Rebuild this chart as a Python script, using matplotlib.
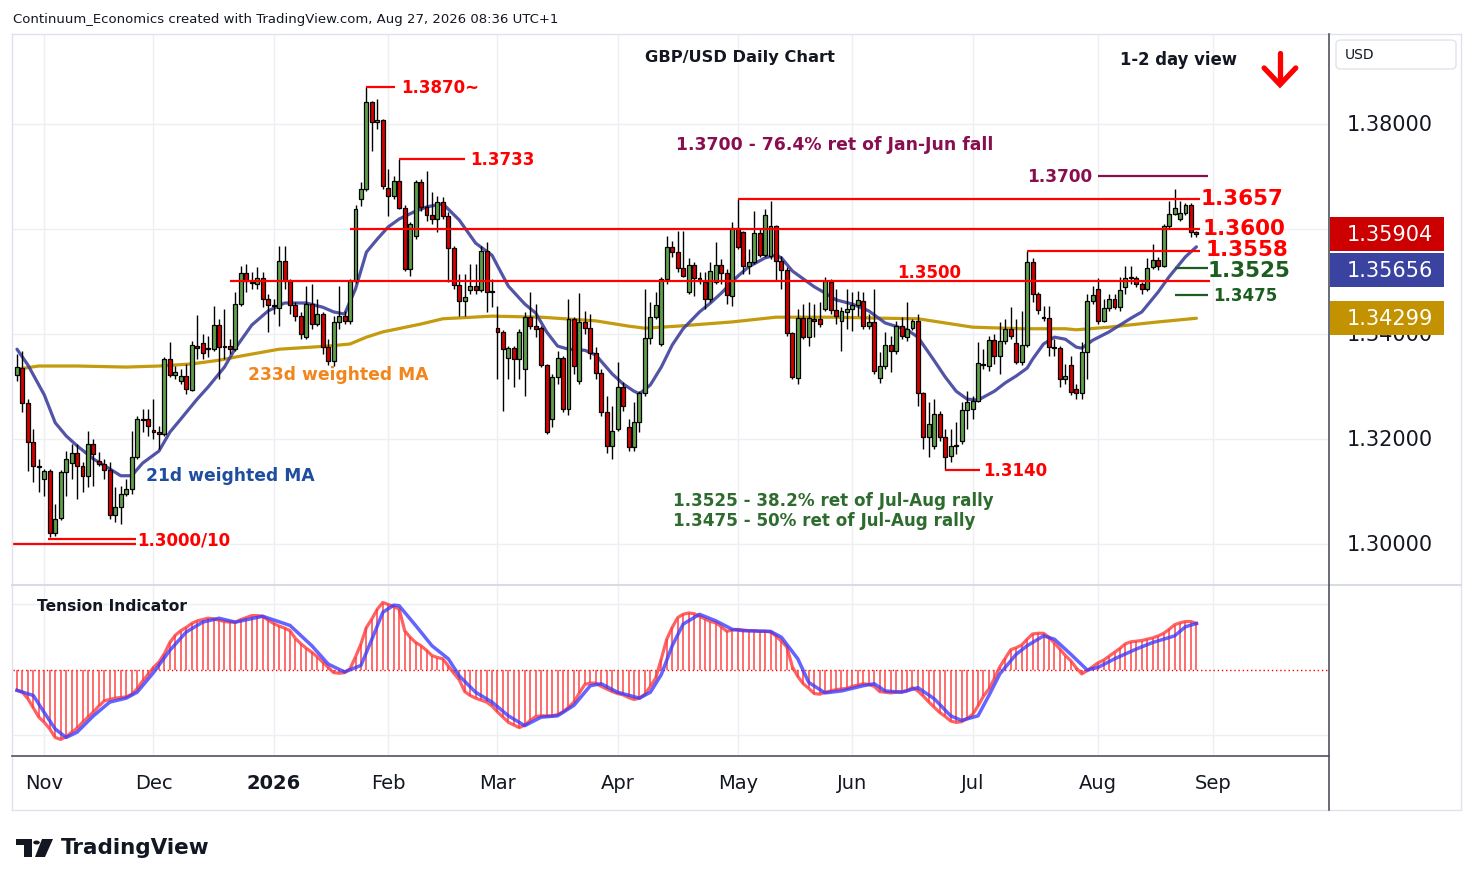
import numpy as np
import pandas as pd
import matplotlib
matplotlib.use('Agg')
import matplotlib.pyplot as plt
from matplotlib import transforms
from matplotlib.patches import Rectangle, FancyBboxPatch, Polygon, Circle
from matplotlib.lines import Line2D

plt.rcParams['font.family'] = ['DejaVu Sans']

# ---------------- DATA ----------------
opens = [1.3322,1.3335,1.3269,1.3194,1.3149,1.3124,1.3139,1.3021,1.3050,1.3137,
1.3154,1.3173,1.3149,1.3130,1.3190,1.3158,1.3152,1.3141,1.3055,1.3071,
1.3095,1.3105,1.3166,1.3238,1.3238,1.3217,1.3213,1.3209,1.3352,1.3322,
1.3311,1.3320,1.3293,1.3377,1.3383,1.3373,1.3371,1.3417,1.3377,1.3377,
1.3371,1.3457,1.3516,1.3499,1.3495,1.3507,1.3467,1.3455,1.3449,1.3539,
1.3501,1.3455,1.3434,1.3394,1.3457,1.3419,1.3438,1.3375,1.3349,1.3423,
1.3434,1.3425,1.3501,1.3657,1.3676,1.3842,1.3804,1.3808,1.3678,1.3663,
1.3691,1.3640,1.3524,1.3587,1.3690,1.3642,1.3627,1.3619,1.3651,1.3625,
1.3564,1.3493,1.3463,1.3484,1.3491,1.3484,1.3558,1.3480,1.3411,1.3404,
1.3354,1.3373,1.3352,1.3333,1.3432,1.3415,1.3411,1.3341,1.3238,1.3318,
1.3354,1.3257,1.3429,1.3311,1.3423,1.3411,1.3364,1.3326,1.3251,1.3187,
1.3219,1.3299,1.3223,1.3185,1.3232,1.3288,1.3392,1.3432,1.3381,1.3505,
1.3566,1.3556,1.3526,1.3480,1.3531,1.3507,1.3499,1.3467,1.3499,1.3531,
1.3516,1.3472,1.3602,1.3594,1.3529,1.3537,1.3592,1.3550,1.3548,1.3606,
1.3539,1.3522,1.3402,1.3316,1.3430,1.3394,1.3429,1.3429,1.3448,1.3499,
1.3446,1.3425,1.3442,1.3448,1.3455,1.3463,1.3415,1.3423,1.3316,1.3339,
1.3379,1.3368,1.3415,1.3394,1.3411,1.3425,1.3288,1.3204,1.3187,1.3248,
1.3204,1.3168,1.3187,1.3196,1.3255,1.3257,1.3272,1.3343,1.3339,1.3388,
1.3358,1.3387,1.3410,1.3383,1.3347,1.3379,1.3537,1.3476,1.3432,1.3430,
1.3375,1.3373,1.3314,1.3341,1.3295,1.3288,1.3366,1.3463,1.3486,1.3425,
1.3449,1.3467,1.3451,1.3490,1.3507,1.3507,1.3495,1.3486,1.3528,1.3541,
1.3529,1.3606,1.3629,1.3619,1.3630,1.3646,1.3594]

highs = [1.3362,1.3368,1.3276,1.3219,1.3162,1.3143,1.3143,1.3076,1.3141,1.3177,
1.3190,1.3190,1.3156,1.3215,1.3200,1.3175,1.3162,1.3156,1.3109,1.3111,
1.3124,1.3215,1.3244,1.3257,1.3257,1.3276,1.3225,1.3356,1.3385,1.3339,
1.3333,1.3343,1.3387,1.3436,1.3400,1.3396,1.3453,1.3429,1.3448,1.3390,
1.3480,1.3530,1.3533,1.3518,1.3528,1.3518,1.3476,1.3467,1.3568,1.3568,
1.3505,1.3461,1.3442,1.3491,1.3495,1.3467,1.3442,1.3390,1.3434,1.3491,
1.3444,1.3505,1.3646,1.3690,1.3870,1.3844,1.3848,1.3810,1.3714,1.3701,
1.3733,1.3646,1.3613,1.3693,1.3695,1.3710,1.3671,1.3663,1.3661,1.3632,
1.3568,1.3514,1.3514,1.3533,1.3533,1.3568,1.3575,1.3505,1.3453,1.3407,
1.3377,1.3377,1.3410,1.3442,1.3480,1.3457,1.3415,1.3343,1.3324,1.3368,
1.3358,1.3467,1.3432,1.3478,1.3444,1.3438,1.3375,1.3333,1.3282,1.3263,
1.3347,1.3308,1.3238,1.3270,1.3291,1.3486,1.3461,1.3480,1.3509,1.3587,
1.3577,1.3596,1.3596,1.3545,1.3537,1.3518,1.3518,1.3537,1.3575,1.3543,
1.3524,1.3613,1.3657,1.3596,1.3562,1.3634,1.3600,1.3638,1.3653,1.3608,
1.3549,1.3528,1.3404,1.3448,1.3457,1.3461,1.3457,1.3461,1.3509,1.3505,
1.3486,1.3451,1.3486,1.3480,1.3482,1.3480,1.3438,1.3486,1.3366,1.3404,
1.3396,1.3425,1.3432,1.3461,1.3429,1.3438,1.3290,1.3270,1.3276,1.3253,
1.3219,1.3219,1.3232,1.3270,1.3291,1.3282,1.3385,1.3371,1.3396,1.3400,
1.3423,1.3429,1.3451,1.3429,1.3444,1.3558,1.3545,1.3480,1.3453,1.3453,
1.3390,1.3377,1.3343,1.3358,1.3305,1.3385,1.3476,1.3491,1.3507,1.3467,
1.3476,1.3476,1.3509,1.3530,1.3530,1.3510,1.3499,1.3545,1.3572,1.3547,
1.3610,1.3653,1.3676,1.3653,1.3650,1.3650,1.3596]

lows = [1.3311,1.3251,1.3139,1.3118,1.3099,1.3091,1.3013,1.3015,1.3046,1.3091,
1.3124,1.3086,1.3099,1.3109,1.3111,1.3149,1.3124,1.3048,1.3042,1.3038,
1.3091,1.3095,1.3162,1.3213,1.3206,1.3200,1.3181,1.3206,1.3318,1.3314,
1.3305,1.3286,1.3291,1.3352,1.3352,1.3356,1.3368,1.3314,1.3352,1.3362,
1.3368,1.3453,1.3480,1.3486,1.3486,1.3451,1.3404,1.3438,1.3415,1.3486,
1.3438,1.3425,1.3390,1.3390,1.3410,1.3415,1.3362,1.3341,1.3339,1.3410,
1.3419,1.3419,1.3497,1.3644,1.3672,1.3749,1.3790,1.3676,1.3625,1.3657,
1.3638,1.3520,1.3510,1.3581,1.3634,1.3615,1.3610,1.3594,1.3619,1.3499,
1.3486,1.3434,1.3434,1.3476,1.3476,1.3480,1.3442,1.3451,1.3314,1.3253,
1.3314,1.3299,1.3314,1.3282,1.3410,1.3394,1.3337,1.3209,1.3223,1.3305,
1.3251,1.3246,1.3324,1.3305,1.3400,1.3352,1.3314,1.3244,1.3173,1.3162,
1.3215,1.3253,1.3177,1.3177,1.3213,1.3282,1.3381,1.3429,1.3377,1.3495,
1.3547,1.3518,1.3509,1.3476,1.3472,1.3495,1.3448,1.3461,1.3495,1.3495,
1.3457,1.3453,1.3562,1.3514,1.3514,1.3533,1.3547,1.3547,1.3543,1.3501,
1.3486,1.3396,1.3314,1.3305,1.3390,1.3377,1.3394,1.3413,1.3444,1.3438,
1.3419,1.3368,1.3410,1.3406,1.3434,1.3410,1.3410,1.3324,1.3307,1.3333,
1.3328,1.3362,1.3390,1.3387,1.3408,1.3263,1.3181,1.3166,1.3181,1.3196,
1.3140,1.3156,1.3171,1.3190,1.3219,1.3238,1.3270,1.3333,1.3330,1.3343,
1.3324,1.3381,1.3390,1.3343,1.3341,1.3375,1.3461,1.3438,1.3425,1.3358,
1.3358,1.3299,1.3305,1.3284,1.3276,1.3276,1.3314,1.3457,1.3419,1.3423,
1.3444,1.3448,1.3444,1.3476,1.3495,1.3490,1.3476,1.3482,1.3524,1.3522,
1.3528,1.3600,1.3627,1.3615,1.3627,1.3585,1.3585]

closes = [1.3337,1.3269,1.3194,1.3149,1.3147,1.3139,1.3021,1.3048,1.3137,1.3162,
1.3173,1.3149,1.3130,1.3190,1.3171,1.3152,1.3141,1.3055,1.3071,1.3095,
1.3105,1.3166,1.3238,1.3236,1.3225,1.3213,1.3209,1.3352,1.3322,1.3327,
1.3320,1.3295,1.3379,1.3373,1.3364,1.3371,1.3417,1.3375,1.3375,1.3371,
1.3457,1.3516,1.3501,1.3497,1.3507,1.3467,1.3455,1.3453,1.3539,1.3501,
1.3455,1.3434,1.3400,1.3457,1.3419,1.3438,1.3375,1.3349,1.3423,1.3434,
1.3425,1.3501,1.3638,1.3676,1.3842,1.3804,1.3808,1.3682,1.3663,1.3691,
1.3640,1.3524,1.3610,1.3690,1.3642,1.3627,1.3619,1.3651,1.3625,1.3564,
1.3493,1.3463,1.3470,1.3491,1.3484,1.3558,1.3480,1.3482,1.3404,1.3371,
1.3373,1.3352,1.3404,1.3432,1.3415,1.3410,1.3341,1.3213,1.3318,1.3354,
1.3257,1.3429,1.3339,1.3423,1.3411,1.3364,1.3326,1.3251,1.3187,1.3215,
1.3299,1.3263,1.3185,1.3232,1.3288,1.3392,1.3432,1.3455,1.3505,1.3566,
1.3556,1.3526,1.3510,1.3531,1.3507,1.3501,1.3467,1.3520,1.3531,1.3516,
1.3474,1.3602,1.3566,1.3529,1.3537,1.3592,1.3550,1.3627,1.3606,1.3539,
1.3522,1.3402,1.3318,1.3430,1.3394,1.3430,1.3425,1.3419,1.3501,1.3446,
1.3434,1.3444,1.3448,1.3455,1.3465,1.3415,1.3423,1.3330,1.3339,1.3379,
1.3368,1.3415,1.3396,1.3410,1.3425,1.3288,1.3204,1.3229,1.3248,1.3204,
1.3166,1.3187,1.3189,1.3255,1.3270,1.3272,1.3345,1.3341,1.3388,1.3358,
1.3387,1.3410,1.3396,1.3347,1.3379,1.3537,1.3476,1.3446,1.3430,1.3375,
1.3373,1.3314,1.3320,1.3290,1.3288,1.3366,1.3463,1.3474,1.3425,1.3449,
1.3467,1.3451,1.3484,1.3507,1.3507,1.3495,1.3486,1.3526,1.3541,1.3529,
1.3606,1.3629,1.3640,1.3630,1.3646,1.3594,1.3590]

ma21_idx = [0,2,5,7,9,11,14,17,19,21,23,26,28,30,33,35,38,40,43,46,
49,53,56,58,60,62,64,66,68,70,73,75,78,81,84,87,88,90,93,95,
97,99,101,104,106,109,111,113,114,116,118,120,122,125,127,129,132,134,137,139,
140,142,144,146,148,150,153,156,159,163,165,168,170,172,174,176,179,181,183,185,
186,188,190,192,194,195,197,200,204,206,209,211,214,216]
ma21_val = [1.3371,1.3341,1.3284,1.3231,1.3206,1.3187,1.3162,1.3143,1.3130,1.3130,
1.3154,1.3177,1.3213,1.3238,1.3276,1.3299,1.3337,1.3373,1.3417,1.3444,
1.3459,1.3459,1.3451,1.3442,1.3438,1.3486,1.3556,1.3581,1.3604,1.3619,
1.3634,1.3642,1.3648,1.3617,1.3573,1.3550,1.3530,1.3491,1.3457,1.3440,
1.3404,1.3377,1.3371,1.3369,1.3360,1.3324,1.3305,1.3291,1.3286,1.3303,
1.3337,1.3379,1.3410,1.3442,1.3459,1.3478,1.3510,1.3528,1.3545,1.3550,
1.3545,1.3520,1.3505,1.3490,1.3478,1.3465,1.3457,1.3444,1.3421,1.3408,
1.3394,1.3349,1.3318,1.3291,1.3276,1.3274,1.3291,1.3307,1.3320,1.3335,
1.3352,1.3381,1.3394,1.3390,1.3375,1.3373,1.3388,1.3404,1.3430,1.3442,
1.3480,1.3509,1.3547,1.3566]

ma233_idx = [0,4,11,20,26,32,37,41,48,57,61,64,67,74,78,87,96,106,112,115,
121,131,139,149,159,165,175,184,192,194,200,209,216]
ma233_val = [1.3333,1.3339,1.3339,1.3337,1.3339,1.3343,1.3350,1.3358,1.3371,1.3377,
1.3381,1.3394,1.3404,1.3419,1.3429,1.3434,1.3432,1.3425,1.3415,1.3411,
1.3415,1.3423,1.3432,1.3432,1.3430,1.3429,1.3413,1.3410,1.3410,1.3408,
1.3413,1.3423,1.3430]

tension = [-0.31,-0.34,-0.44,-0.58,-0.72,-0.80,-0.90,-1.03,-1.06,-1.02,
-0.95,-0.89,-0.80,-0.72,-0.64,-0.55,-0.47,-0.45,-0.43,-0.42,
-0.41,-0.37,-0.29,-0.17,-0.07,0.04,0.12,0.25,0.42,0.53,
0.60,0.65,0.71,0.75,0.77,0.79,0.78,0.76,0.74,0.73,
0.73,0.77,0.80,0.83,0.83,0.82,0.76,0.71,0.67,0.64,
0.60,0.48,0.40,0.33,0.27,0.20,0.12,0.04,-0.04,-0.05,
-0.04,0.02,0.20,0.40,0.65,0.78,0.93,1.03,1.00,0.97,
0.93,0.60,0.50,0.42,0.37,0.30,0.22,0.19,0.17,0.06,
-0.05,-0.15,-0.33,-0.39,-0.43,-0.46,-0.49,-0.55,-0.64,-0.72,
-0.80,-0.84,-0.88,-0.84,-0.77,-0.71,-0.70,-0.70,-0.70,-0.68,
-0.64,-0.57,-0.49,-0.35,-0.22,-0.20,-0.20,-0.25,-0.29,-0.33,
-0.36,-0.38,-0.42,-0.45,-0.43,-0.37,-0.25,-0.12,0.17,0.47,
0.65,0.80,0.85,0.87,0.86,0.82,0.78,0.74,0.72,0.66,
0.59,0.61,0.62,0.61,0.60,0.60,0.59,0.59,0.58,0.52,
0.44,0.35,0.05,-0.10,-0.21,-0.28,-0.36,-0.37,-0.34,-0.32,
-0.30,-0.29,-0.28,-0.25,-0.23,-0.21,-0.22,-0.25,-0.33,-0.34,
-0.35,-0.34,-0.33,-0.32,-0.27,-0.32,-0.40,-0.49,-0.57,-0.65,
-0.71,-0.78,-0.80,-0.79,-0.74,-0.68,-0.55,-0.40,-0.29,-0.13,
0.05,0.18,0.31,0.34,0.38,0.47,0.55,0.56,0.56,0.50,
0.41,0.32,0.22,0.14,0.03,-0.06,-0.01,0.05,0.11,0.15,
0.21,0.27,0.33,0.40,0.43,0.44,0.45,0.47,0.49,0.52,
0.56,0.62,0.69,0.72,0.74,0.74,0.71]

sig_idx = [0,3,5,7,9,11,14,17,20,22,25,28,31,34,37,40,45,50,54,57,
60,63,65,67,69,70,73,76,79,81,84,87,90,93,96,99,102,105,107,110,
114,116,118,120,122,125,128,131,133,138,140,143,145,148,151,155,157,159,162,165,
168,171,173,176,178,180,183,185,188,190,193,196,198,201,205,208,212,214,216]
sig_val = [-0.31,-0.39,-0.65,-0.90,-1.03,-0.95,-0.70,-0.49,-0.43,-0.34,
-0.04,0.30,0.58,0.73,0.79,0.73,0.82,0.68,0.37,0.09,
-0.03,0.07,0.47,0.88,0.99,0.98,0.68,0.37,0.17,-0.09,
-0.34,-0.49,-0.70,-0.85,-0.72,-0.70,-0.54,-0.24,-0.21,-0.34,
-0.43,-0.34,-0.07,0.37,0.70,0.85,0.75,0.62,0.60,0.59,
0.50,0.17,-0.19,-0.35,-0.32,-0.24,-0.21,-0.32,-0.34,-0.27,
-0.44,-0.70,-0.77,-0.70,-0.39,-0.06,0.24,0.37,0.52,0.47,
0.24,0.0,0.04,0.17,0.32,0.42,0.52,0.66,0.71]

month_labels = ['Nov', 'Dec', '2026', 'Feb', 'Mar', 'Apr', 'May', 'Jun', 'Jul', 'Aug', 'Sep']
price_ticks = [1.30, 1.32, 1.34, 1.36, 1.38]
price_tick_labels = ['1.30000', '1.32000', '1.34000', '1.36000', '1.38000']
last_close = 1.35904
last_ma21 = 1.35656
last_ma233 = 1.34299

# ---------------- FIGURE ----------------
W, H = 1474, 887
fig = plt.figure(figsize=(W / 100, H / 100), dpi=100)
fig.patch.set_facecolor('white')

def fx(px):
    return px / W

def fy(py):
    return 1 - py / H

ax = fig.add_axes([fx(13), fy(585), fx(1328) - fx(13), fy(35) - fy(585)])
ax2 = fig.add_axes([fx(13), fy(757), fx(1328) - fx(13), fy(587) - fy(757)])

# bar dates (weekdays, Christmas and New Year's Day missing)
dates = pd.bdate_range('2025-10-27', '2026-09-30').drop(pd.to_datetime(['2025-12-25', '2026-01-01']))
pos = pd.Series(np.arange(len(dates)), index=dates)
firsts = pos.groupby([dates.year, dates.month]).min().values
month_pos = list(firsts[1:12])

GRID = '#eceff4'
for a in (ax, ax2):
    a.set_facecolor('white')
    for s in a.spines.values():
        s.set_visible(False)
    a.set_xticks(month_pos)
    a.grid(True, color=GRID, lw=1.0, zorder=0)
    a.set_axisbelow(True)
    a.set_xlim(-0.73, 240.1)

ax.set_yticks(price_ticks)
ax.tick_params(axis='both', length=0, labelbottom=False, labelleft=False)
ax.set_ylim(1.29238, 1.39714)

ax2.set_yticks([-1, 1])
ax2.tick_params(axis='y', length=0, labelleft=False)
ax2.set_xticklabels(month_labels)
ax2.tick_params(axis='x', length=0, pad=12, labelsize=14, labelcolor='#131722')
for t in ax2.get_xticklabels():
    if t.get_text() == '2026':
        t.set_fontweight('bold')
ax2.set_ylim(-1.313, 1.282)

# ---------------- CANDLES ----------------
o = np.array(opens); h = np.array(highs); l = np.array(lows); c = np.array(closes)
idx = np.arange(len(o))
GREEN = '#62a14c'
RED = '#d60000'
colors = np.where(c >= o, GREEN, RED)
ax.vlines(idx, l, h, color='black', lw=1.0, zorder=3)
bottom = np.minimum(o, c)
height = np.maximum(np.abs(c - o), 0.00009)
ax.bar(idx, height, bottom=bottom, width=0.72, color=colors, edgecolor='black', linewidth=0.9, zorder=4)

# moving averages
ax.plot(ma233_idx, ma233_val, color='#c49a0e', lw=2.3, zorder=2, solid_capstyle='round')
ax.plot(ma21_idx, ma21_val, color='#3f419c', lw=2.3, zorder=2, alpha=0.9, solid_capstyle='round')

# ---------------- LEVELS ----------------
LR = '#ff0000'
def hline(y, x0, x1, color=LR, lw=1.6):
    ax.plot([x0, x1], [y, y], color=color, lw=lw, zorder=6, solid_capstyle='butt')

hline(1.3870, 63.9, 69.2)
hline(1.3733, 70.0, 82.1)
hline(1.3657, 132.0, 216.7)
hline(1.3600, 61.0, 216.7)
hline(1.3558, 185.0, 216.7)
hline(1.3500, 39.0, 218.5)
hline(1.3140, 170.0, 176.4)
hline(1.3000, -0.7, 21.8)
hline(1.3010, 5.7, 21.8)
hline(1.3700, 198.0, 218.1, color='#880e4f', lw=1.6)
hline(1.3525, 212.1, 218.1, color='#1b5e20', lw=1.6)
hline(1.3475, 212.1, 218.1, color='#1b5e20', lw=1.6)

def label(x, y, s, color, size, weight='bold', ha='left'):
    ax.text(x, y, s, color=color, fontsize=size, fontweight=weight, ha=ha, va='center', zorder=7)

label(70.4, 1.3870, '1.3870~', LR, 12)
label(83.0, 1.3733, '1.3733', LR, 12)
label(120.7, 1.3762, '1.3700 - 76.4% ret of Jan-Jun fall', '#880e4f', 12.4)
label(185.0, 1.3700, '1.3700', '#880e4f', 12.2)
label(216.8, 1.3659, '1.3657', LR, 15.5)
label(217.2, 1.3602, '1.3600', LR, 15.5)
label(217.6, 1.3562, '1.3558', LR, 15.5)
label(218.1, 1.3521, '1.3525', '#1b5e20', 15.5)
label(219.0, 1.3475, '1.3475', '#1b5e20', 12)
label(161.2, 1.3518, '1.3500', LR, 12)
label(176.9, 1.3141, '1.3140', LR, 12)
label(22.0, 1.3008, '1.3000/10', LR, 12)
label(42.3, 1.3324, '233d weighted MA', '#f0861d', 12.3)
label(23.6, 1.3131, '21d weighted MA', '#1f4e9e', 12.3)
label(120.1, 1.3084, '1.3525 - 38.2% ret of Jul-Aug rally', '#2e6b2e', 12.1)
label(120.1, 1.3046, '1.3475 - 50% ret of Jul-Aug rally', '#2e6b2e', 12.1)
label(132.4, 1.3928, 'GBP/USD Daily Chart', '#131722', 11.7, ha='center')
label(202.0, 1.3924, '1-2 day view', '#131722', 11.9)

# red down arrow
ax.plot([231.3, 231.3], [1.39347, 1.38790], color=LR, lw=3.8, zorder=7, solid_capstyle='round')
ax.plot([228.4, 231.3, 234.2], [1.39067, 1.38750, 1.39067], color=LR, lw=3.8, zorder=7,
        solid_joinstyle='miter', solid_capstyle='round')

# ---------------- TENSION ----------------
tv = np.array(tension)
ax2.axhline(0, color='#ff0000', lw=1.0, ls=(0, (1, 2)), zorder=2)
ax2.vlines(idx, 0, tv, color='#ff3b3b', lw=1.3, alpha=0.8, zorder=3)
ax2.plot(idx, tv, color='#ff3b3b', lw=2.3, alpha=0.8, zorder=4)
ax2.plot(sig_idx, sig_val, color='#3d3dff', lw=2.5, alpha=0.8, zorder=5)
ax2.text(3.7, 0.98, 'Tension Indicator', fontsize=11.2, fontweight='bold', color='#131722',
         ha='left', va='center', zorder=6)

# ---------------- RIGHT AXIS ----------------
trans = transforms.blended_transform_factory(fig.transFigure, ax.transData)
for p, s in zip(price_ticks, price_tick_labels):
    if abs(p - 1.36) < 1e-9:
        continue
    ax.text(fx(1390), p, s, transform=trans, ha='center', va='center', fontsize=15,
            color='#131722', clip_on=False, zorder=8)

box_h = 0.00648
# label boxes are stacked by the platform so they do not overlap; the middle one is pushed down
box_centers = [last_close, last_close - box_h - 0.00037, last_ma233]
for val, yc, col in [(last_close, box_centers[0], '#cc0000'),
                     (last_ma21, box_centers[1], '#3b43a0'),
                     (last_ma233, box_centers[2], '#c39200')]:
    ax.add_patch(Rectangle((fx(1330), yc - box_h / 2), fx(1444) - fx(1330), box_h,
                           transform=trans, facecolor=col, edgecolor='none', clip_on=False, zorder=9))
    ax.text(fx(1390), yc, f'{val:.5f}', transform=trans, ha='center', va='center',
            fontsize=15, color='white', clip_on=False, zorder=10)

# ---------------- FRAME / DECOR ----------------
def fline(x0, y0, x1, y1, color, lw=1.0):
    fig.add_artist(Line2D([fx(x0), fx(x1)], [fy(y0), fy(y1)], color=color, lw=lw,
                          transform=fig.transFigure))

fline(12, 35, 1461, 35, '#e0e3eb')
fline(12, 811, 1461, 811, '#e0e3eb')
fline(12, 35, 12, 811, '#e0e3eb')
fline(1461, 35, 1461, 811, '#e0e3eb')
fline(12, 586, 1461, 586, '#d8dbe2', 1.5)
fline(12, 757, 1329, 757, '#50535e', 1.2)
fline(1329, 35, 1329, 811, '#50535e', 1.2)

fig.add_artist(FancyBboxPatch((fx(1336), fy(70)), fx(1456) - fx(1336), fy(41) - fy(70),
                              boxstyle='round,pad=0,rounding_size=0.004',
                              transform=fig.transFigure, facecolor='white',
                              edgecolor='#e0e3eb', lw=1))
fig.text(fx(1345), fy(55), 'USD', fontsize=10, color='#131722', ha='left', va='center')

fig.text(fx(13), fy(19), 'Continuum_Economics created with TradingView.com, Aug 27, 2026 08:36 UTC+1',
         fontsize=9.5, color='#131722', ha='left', va='center')

# TradingView logo
def fp(pts):
    return [(fx(x), fy(y)) for x, y in pts]

fig.add_artist(Polygon(fp([(16, 840), (32, 840), (32, 858), (24, 858), (24, 846), (16, 846)]),
                       closed=True, transform=fig.transFigure, facecolor='#131722', edgecolor='none'))
fig.add_artist(Circle((fx(36.5), fy(843.5)), 3.3 / W, transform=fig.transFigure,
                      facecolor='#131722', edgecolor='none'))
fig.add_artist(Polygon(fp([(42, 840), (53, 840), (45, 858), (35, 858)]), closed=True,
                       transform=fig.transFigure, facecolor='#131722', edgecolor='none'))
fig.text(fx(61), fy(854), 'TradingView', fontsize=15.5, fontweight='bold', color='#131722',
         ha='left', va='baseline')

fig.savefig('out.png', dpi=100, facecolor='white')
